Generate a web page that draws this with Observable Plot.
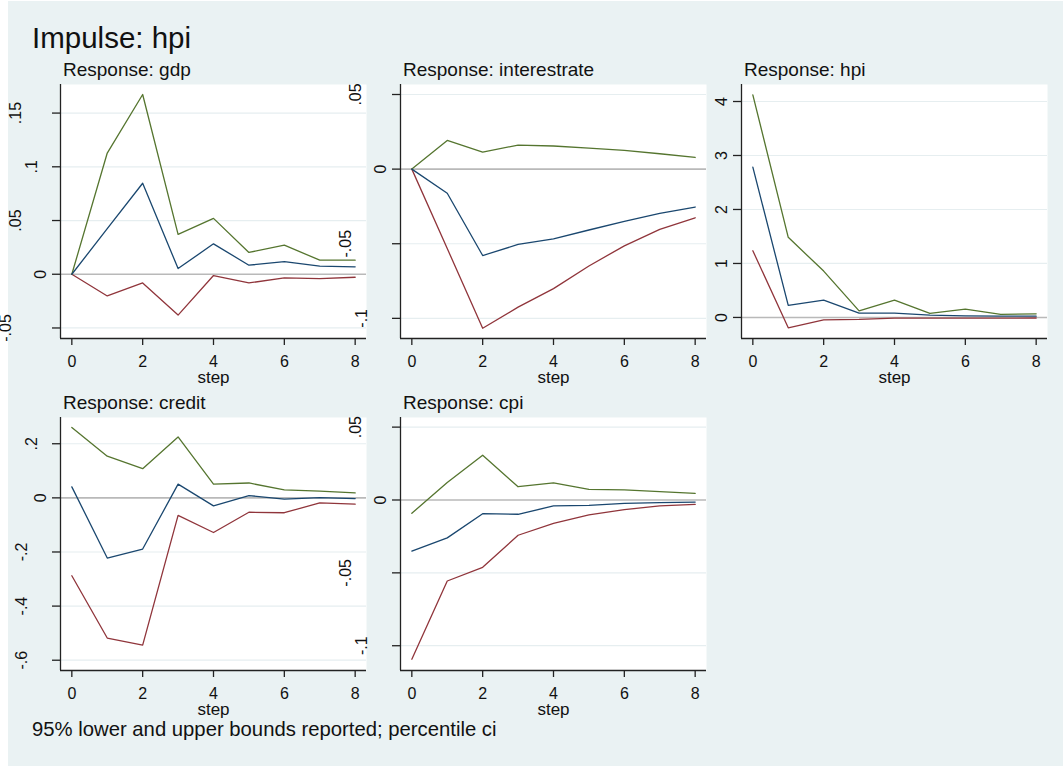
<!DOCTYPE html>
<html>
<head>
<meta charset="utf-8">
<script src="https://cdn.jsdelivr.net/npm/d3@7"></script>
<script src="https://cdn.jsdelivr.net/npm/@observablehq/plot@0.6"></script>
<style>
  html, body { margin: 0; padding: 0; background: #ffffff; }
  #root { position: relative; width: 1063px; height: 766px; overflow: hidden; font-family: "Liberation Sans", Arial, sans-serif; color: #111; }
  #bg { position: absolute; left: 8px; top: 1px; right: 0; bottom: 0; background: #EAF2F3; }
  .txt { position: absolute; white-space: nowrap; line-height: 1; }
  svg { overflow: visible; }
</style>
</head>
<body>
<div id="root"><div id="bg"></div></div>
<script>
// ---- data ----
const steps = [0, 1, 2, 3, 4, 5, 6, 7, 8];

const gdpIrf   = [0, 0.0424, 0.0847, 0.0053, 0.0283, 0.0084, 0.0118, 0.0075, 0.0069];
const gdpLower = [0, -0.0202, -0.0081, -0.0380, -0.0012, -0.0081, -0.0034, -0.0040, -0.0028];
const gdpUpper = [0, 0.1128, 0.1673, 0.0371, 0.0520, 0.0203, 0.0271, 0.0131, 0.0131];

const rateIrf   = [0, -0.0162, -0.0579, -0.0505, -0.0467, -0.0408, -0.0350, -0.0296, -0.0254];
const rateLower = [0, -0.0532, -0.1066, -0.0925, -0.0801, -0.0649, -0.0514, -0.0404, -0.0326];
const rateUpper = [0, 0.0192, 0.0114, 0.0161, 0.0155, 0.0141, 0.0125, 0.0103, 0.0078];

const hpiIrf   = [2.783, 0.223, 0.321, 0.080, 0.080, 0.043, 0.030, 0.025, 0.024];
const hpiLower = [1.236, -0.192, -0.044, -0.037, -0.013, -0.013, -0.013, -0.012, -0.010];
const hpiUpper = [4.124, 1.484, 0.859, 0.122, 0.321, 0.074, 0.154, 0.056, 0.067];

const creditIrf   = [0.0406, -0.2225, -0.189, 0.0506, -0.0295, 0.0086, -0.0049, 0.0012, -0.0025];
const creditLower = [-0.288, -0.518, -0.544, -0.065, -0.128, -0.053, -0.055, -0.0184, -0.0232];
const creditUpper = [0.260, 0.154, 0.108, 0.225, 0.0506, 0.055, 0.0296, 0.0247, 0.0185];

const cpiIrf   = [-0.0351, -0.0260, -0.0094, -0.0098, -0.0041, -0.0037, -0.0023, -0.0018, -0.0014];
const cpiLower = [-0.1093, -0.0556, -0.0462, -0.0242, -0.0160, -0.0102, -0.0066, -0.0041, -0.0030];
const cpiUpper = [-0.0091, 0.0120, 0.0307, 0.0091, 0.0118, 0.0073, 0.0070, 0.0057, 0.0045];

const xTicks = [0, 2, 4, 6, 8];
const gdpTicks = [-0.05, 0, 0.05, 0.1, 0.15];
const rateTicks = [-0.1, -0.05, 0, 0.05];
const hpiTicks = [0, 1, 2, 3, 4];
const creditTicks = [-0.6, -0.4, -0.2, 0, 0.2];
const cpiTicks = [-0.1, -0.05, 0, 0.05];

const mainTitle = "Impulse: hpi";
const note = "95% lower and upper bounds reported; percentile ci";
const xLabel = "step";

// ---- layout / style ----
const colIrf = "#1A476F", colLower = "#90353B", colUpper = "#55752F";
const axisCol = "#222";
const PW = 306;               // plot area width
const ML = 80, MB = 50;       // svg margins
const xDom = [-0.32, 8.32];

const panels = [
  {title: "Response: gdp",          irf: gdpIrf,    lo: gdpLower,    up: gdpUpper,    ticks: gdpTicks,    yDom: [-0.0598, 0.1766], x0: 60,  y0: 84,  h: 254},
  {title: "Response: interestrate", irf: rateIrf,   lo: rateLower,   up: rateUpper,   ticks: rateTicks,   yDom: [-0.1135, 0.0567], x0: 400, y0: 84,  h: 254},
  {title: "Response: hpi",          irf: hpiIrf,    lo: hpiLower,    up: hpiUpper,    ticks: hpiTicks,    yDom: [-0.39, 4.315],    x0: 741, y0: 84,  h: 254},
  {title: "Response: credit",       irf: creditIrf, lo: creditLower, up: creditUpper, ticks: creditTicks, yDom: [-0.638, 0.297],   x0: 60,  y0: 417, h: 253},
  {title: "Response: cpi",          irf: cpiIrf,    lo: cpiLower,    up: cpiUpper,    ticks: cpiTicks,    yDom: [-0.117, 0.0566],  x0: 400, y0: 417, h: 253}
];

const fmt = v => String(v).replace(/^(-?)0\./, "$1.");
const emW = s => [...s].reduce((a, c) => a + (c === "." ? 0.278 : c === "-" ? 0.333 : 0.556), 0);
const labelOffset = s => 20 + 30 * (emW(s) - 0.556);

const root = document.getElementById("root");

function addText(str, x, baseline, size) {
  const d = document.createElement("div");
  d.className = "txt";
  d.textContent = str;
  d.style.fontSize = size + "px";
  d.style.left = x + "px";
  d.style.top = (baseline - 0.8465 * size) + "px";
  root.appendChild(d);
}

addText(mainTitle, 32, 48, 29.5);

for (const p of panels) {
  const lineOpts = (arr, col) => Plot.line(steps, {x: d => d, y: (d, i) => arr[i], stroke: col, strokeWidth: 1.3});
  const labelMarks = p.ticks.map(t => Plot.text([t], {
    y: d => d, frameAnchor: "left", text: d => fmt(d), rotate: -90,
    textAnchor: "middle", lineAnchor: "middle", dx: -labelOffset(fmt(t)), fontSize: 16, fill: "#111"
  }));
  const svg = Plot.plot({
    width: PW + ML, height: p.h + MB,
    marginLeft: ML, marginRight: 0, marginTop: 0, marginBottom: MB,
    x: {domain: xDom},
    y: {domain: p.yDom},
    style: {fontFamily: "'Liberation Sans', Arial, sans-serif", fontSize: "16px", overflow: "visible", background: "none", color: "#111"},
    marks: [
      Plot.frame({fill: "white", stroke: "none"}),
      Plot.ruleY(p.ticks.filter(t => t !== 0), {stroke: "#E6EEF0", strokeWidth: 1.2}),
      Plot.ruleY([0], {stroke: "#b9b9b9", strokeWidth: 1.6}),
      lineOpts(p.lo, colLower),
      lineOpts(p.up, colUpper),
      lineOpts(p.irf, colIrf),
      Plot.ruleX([xDom[0]], {stroke: axisCol, strokeWidth: 1.3}),
      Plot.ruleY([p.yDom[0]], {stroke: axisCol, strokeWidth: 1.3}),
      Plot.axisY(p.ticks, {tickSize: 8, tickFormat: () => "", stroke: axisCol, strokeWidth: 1.3, label: null}),
      Plot.axisX(xTicks, {tickSize: 7, tickPadding: 10, fontSize: 16, stroke: axisCol, strokeWidth: 1.3, fill: "#111", label: null}),
      Plot.text([xLabel], {frameAnchor: "bottom", dy: 39, fontSize: 17, lineAnchor: "middle", fill: "#111"}),
      ...labelMarks
    ]
  });
  svg.style.position = "absolute";
  svg.style.left = (p.x0 - ML) + "px";
  svg.style.top = p.y0 + "px";
  root.appendChild(svg);
  addText(p.title, p.x0 + 3, p.y0 - 8, 19);
}

addText(note, 32, 736, 20.3);
</script>
</body>
</html>
